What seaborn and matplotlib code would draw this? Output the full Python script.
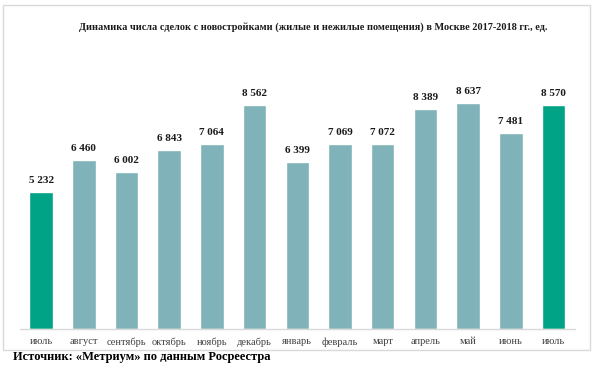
import matplotlib
matplotlib.use("Agg")
import matplotlib.pyplot as plt
import matplotlib.patches as mpatches
import numpy as np
import pandas as pd
import seaborn as sns

months = ["июль", "август", "сентябрь", "октябрь", "ноябрь", "декабрь", "январь",
          "февраль", "март", "апрель", "май", "июнь", "июль"]
deals = [5232, 6460, 6002, 6843, 7064, 8562, 6399, 7069, 7072, 8389, 8637, 7481, 8570]
highlight = [True, False, False, False, False, False, False, False, False, False, False, False, True]

TEAL = "#80B3B9"
GREEN = "#00A385"

sns.set_style("white")
plt.rcParams["font.family"] = ["Liberation Serif", "DejaVu Serif"]

df = pd.DataFrame({"pos": np.arange(len(months)), "deals": deals})
colors = [GREEN if h else TEAL for h in highlight]

fig = plt.figure(figsize=(6, 3.69), dpi=100)
ax = fig.add_axes([0.033, 0.108, 0.925, 0.71])

sns.barplot(data=df, x="pos", y="deals", hue="pos", palette=colors,
            legend=False, width=0.55, saturation=1, ax=ax)

for i, v in enumerate(deals):
    ax.annotate(f"{v:,}".replace(",", " "), (i, v), xytext=(0, 5),
                textcoords="offset points", ha="center", va="bottom",
                fontsize=8, fontweight="bold", color="#1a1a1a")

ax.set_ylim(0, 10000)
ax.set_xlim(-0.5, len(months) - 0.5)
ax.set_xticks(np.arange(len(months)))
ax.set_xticklabels(months, fontsize=7.5, color="#404040")
ax.tick_params(axis="x", length=0, pad=6)
ax.set_yticks([])
ax.set_xlabel("")
ax.set_ylabel("")
for s in ["top", "right", "left"]:
    ax.spines[s].set_visible(False)
ax.spines["bottom"].set_color("#d9d9d9")
ax.spines["bottom"].set_linewidth(1)

# chart frame
fig.patches.append(mpatches.Rectangle((0.005, 1 - 350 / 369), 0.978, 345 / 369,
                                      transform=fig.transFigure, fill=False,
                                      edgecolor="#d9d9d9", linewidth=1))

fig.text(0.522, 1 - 27 / 369,
         "Динамика числа сделок с новостройками (жилые и нежилые помещения) в Москве 2017-2018 гг., ед.",
         ha="center", va="center", fontsize=7.4, fontweight="bold", color="#1a1a1a")
fig.text(0.022, 1 - 357 / 369, "Источник: «Метриум» по данным Росреестра",
         ha="left", va="center", fontsize=9, fontweight="bold", color="black")

fig.savefig("out.png", dpi=100, facecolor="white")
